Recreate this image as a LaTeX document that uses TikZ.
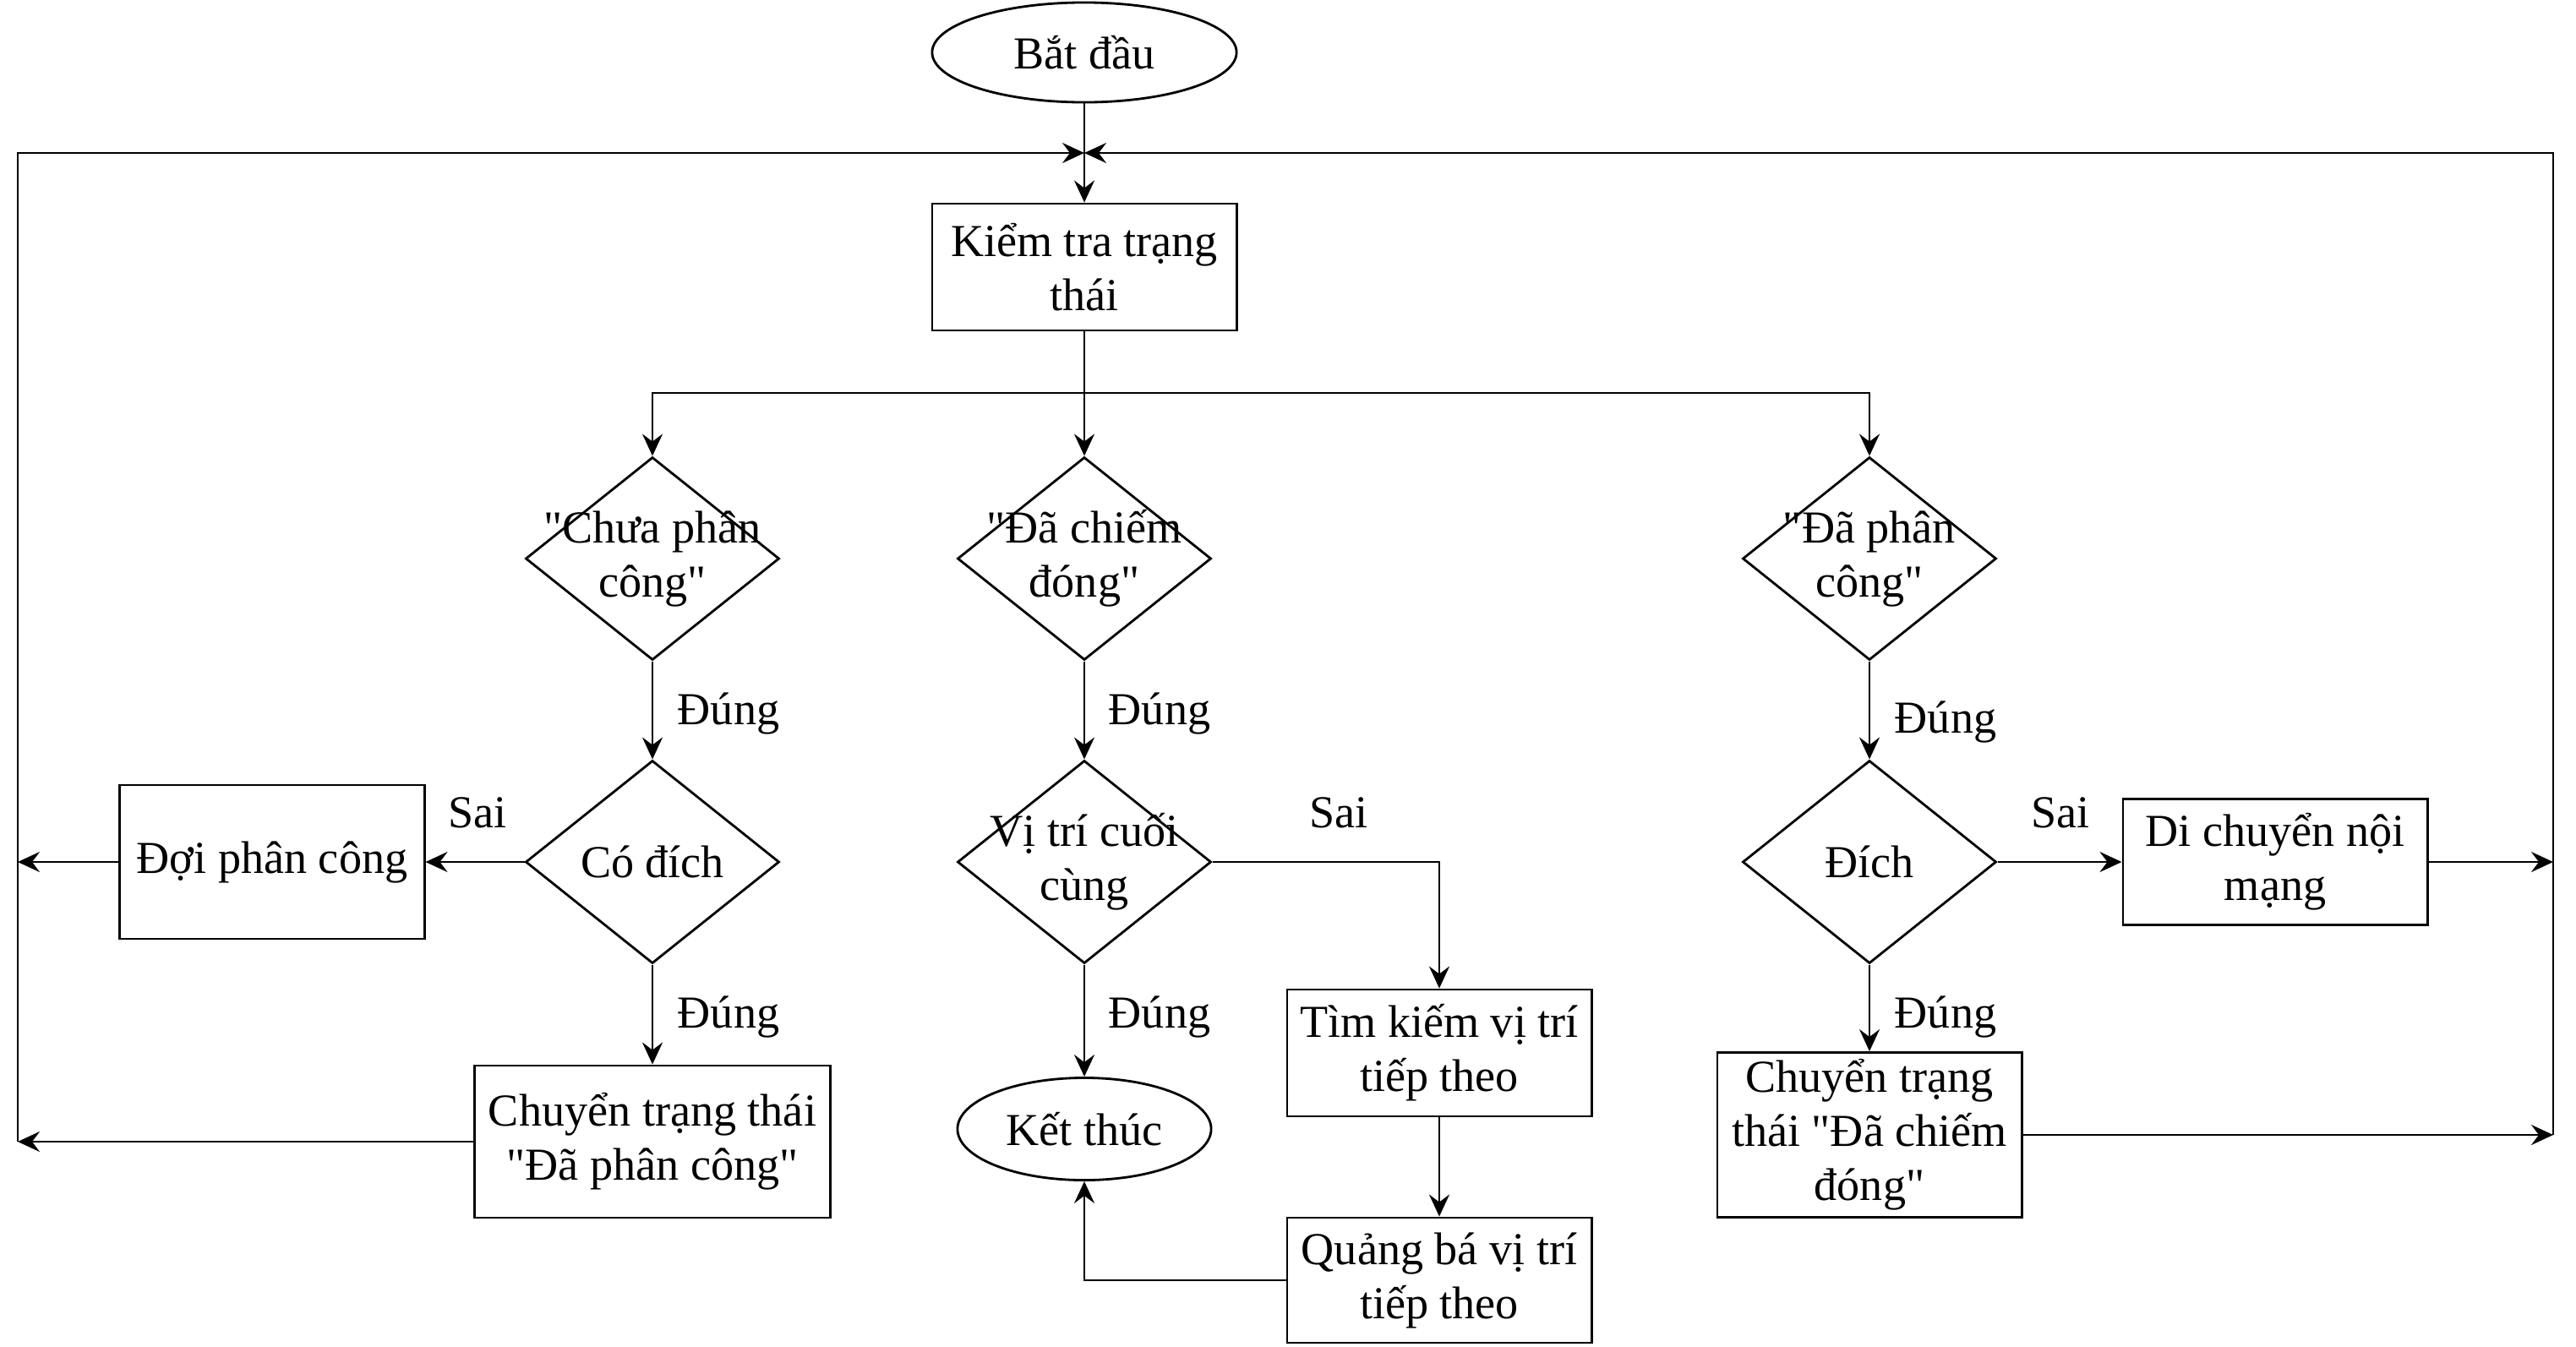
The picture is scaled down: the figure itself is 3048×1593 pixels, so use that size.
\documentclass[tikz,border=0pt]{standalone}
\usepackage{fontspec}
\setmainfont{Liberation Serif}
\usetikzlibrary{shapes.geometric,arrows.meta}

\begin{document}
\begin{tikzpicture}[x=0.01cm,y=-0.01cm,
  font=\fontsize{15.4pt}{18.2pt}\selectfont,
  box/.style={draw,line width=0.8pt,align=center,inner sep=2pt},
  decision/.style={draw,diamond,line width=0.8pt,minimum width=3cm,minimum height=2.4cm,inner sep=0pt},
  term/.style={draw,ellipse,line width=0.8pt,inner sep=0pt},
  arr/.style={line width=0.8pt,-{Stealth[length=2.6mm,width=2.4mm,inset=0.9mm]}}]

\useasboundingbox (0,0) rectangle (3048,1593);

\node[term,minimum width=3.6cm,minimum height=1.18cm] (start) at (1283,62) {Bắt đầu};
\node[box,minimum width=3.6cm,minimum height=1.5cm] (check) at (1283,316) {Kiểm tra trạng\\thái};

\node[decision,label={[align=center]center:\textquotedbl Chưa phân\\công\textquotedbl}] (unassigned) at (772,661) {};
\node[decision,label={[align=center]center:\textquotedbl Đã chiếm\\đóng\textquotedbl}] (occupied) at (1283,661) {};
\node[decision,label={[align=center]center:\textquotedbl Đã phân\\công\textquotedbl}] (assigned) at (2212,661) {};

\node[box,minimum width=3.6cm,minimum height=1.82cm] (wait) at (322,1020) {Đợi phân công};
\node[decision,label={center:Có đích}] (hastarget) at (772,1020) {};
\node[decision,label={[align=center]center:Vị trí cuối\\cùng}] (last) at (1283,1020) {};
\node[decision,label={center:Đích}] (target) at (2212,1020) {};
\node[box,minimum width=3.6cm,minimum height=1.49cm] (move) at (2692,1020) {Di chuyển nội\\mạng};

\node[box,minimum width=4.2cm,minimum height=1.8cm] (toassigned) at (772,1351) {Chuyển trạng thái\\\textquotedbl Đã phân công\textquotedbl};
\node[term,minimum width=3cm,minimum height=1.21cm] (end) at (1283,1336) {Kết thúc};
\node[box,minimum width=3.6cm,minimum height=1.5cm] (find) at (1703,1246) {Tìm kiếm vị trí\\tiếp theo};
\node[box,minimum width=3.6cm,minimum height=1.48cm] (bcast) at (1703,1515) {Quảng bá vị trí\\tiếp theo};
\node[box,minimum width=3.6cm,minimum height=1.95cm] (tooccupied) at (2212,1343) {Chuyển trạng\\thái \textquotedbl Đã chiếm\\đóng\textquotedbl};

\node (yes1) at (862,844) {Đúng};
\node (yes2) at (1372,844) {Đúng};
\node (yes3) at (2302,854) {Đúng};
\node (no1) at (565,962) {Sai};
\node (no2) at (1584,962) {Sai};
\node (no3) at (2438,962) {Sai};
\node (yes4) at (862,1203) {Đúng};
\node (yes5) at (1372,1203) {Đúng};
\node (yes6) at (2302,1203) {Đúng};

\coordinate (join) at (1283,181);
\coordinate (split) at (1283,465);
\coordinate (lback) at (21,1351);
\coordinate (rback) at (3021,1343);

\draw[arr] (start) -- (check);
\draw[arr] (lback) |- (join);
\draw[arr] (rback) |- (join);

\draw[arr] (check) -- (occupied);
\draw[arr] (split) -| (unassigned);
\draw[arr] (split) -| (assigned);

\draw[arr] (unassigned) -- (hastarget);
\draw[arr] (hastarget) -- (wait);
\draw[arr] (wait.west) -- (wait.west -| lback);
\draw[arr] (hastarget) -- (toassigned);
\draw[arr] (toassigned.west) -- (lback);

\draw[arr] (occupied) -- (last);
\draw[arr] (last) -- (end);
\draw[arr] (last.east) -| (find);
\draw[arr] (find) -- (bcast);
\draw[arr] (bcast.west) -| (end);

\draw[arr] (assigned) -- (target);
\draw[arr] (target) -- (move);
\draw[arr] (move.east) -- (move.east -| rback);
\draw[arr] (target) -- (tooccupied);
\draw[arr] (tooccupied.east) -- (rback);

\end{tikzpicture}
\end{document}
